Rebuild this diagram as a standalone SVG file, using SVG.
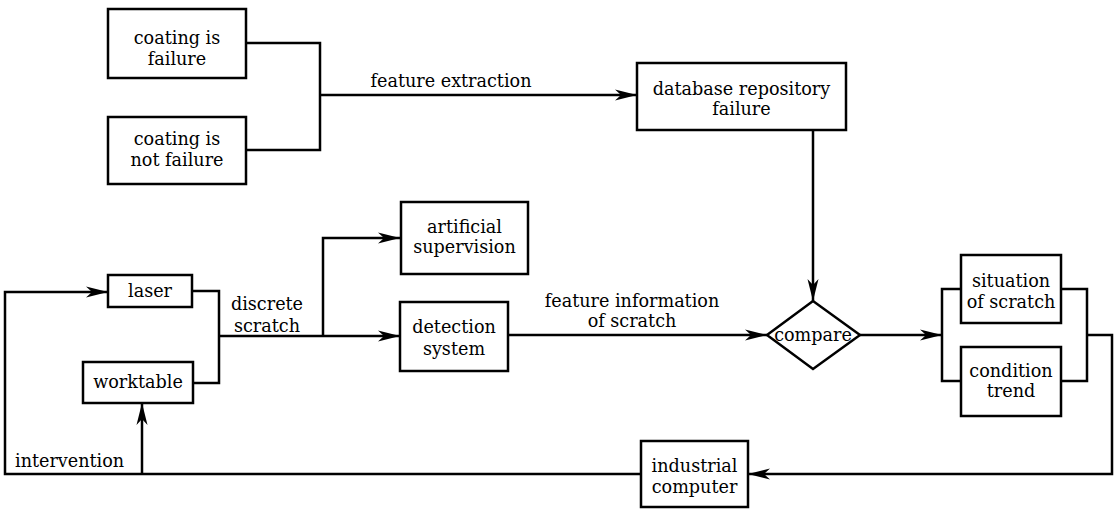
<svg xmlns="http://www.w3.org/2000/svg" width="1119" height="509" viewBox="0 0 1119 509">
<style>
.box{fill:#fff;stroke:#000;stroke-width:2.5}
.ln{fill:none;stroke:#000;stroke-width:2.5}
.arr{marker-end:url(#ah)}
text{font-family:"DejaVu Serif","Liberation Serif",serif;font-size:17.6px;fill:#000;text-anchor:middle}
.l{text-anchor:start}
</style>
<defs>
<marker id="ah" markerUnits="userSpaceOnUse" markerWidth="24" markerHeight="14" refX="22" refY="7" orient="auto">
<path d="M0,1.5 L22,7 L0,12.5 L6,7 z" fill="#000"/>
</marker>
</defs>
<rect width="1119" height="509" fill="#fff"/>
<g id="connectors">
<path class="ln" d="M246,43 H320 V150 H246"/>
<path class="ln arr" d="M320,95 H637"/>
<path class="ln arr" d="M813,130 V301"/>
<path class="ln" d="M192,291 H219 V383 H193"/>
<path class="ln arr" d="M219,336 H400"/>
<path class="ln arr" d="M323,336 V238 H400"/>
<path class="ln arr" d="M508,335 H767"/>
<path class="ln arr" d="M860,335 H942"/>
<path class="ln" d="M961,289 H942 V381 H961"/>
<path class="ln" d="M1061,289 H1087 V381 H1061"/>
<path class="ln arr" d="M1087,335 H1112 V474 H748"/>
<path class="ln arr" d="M641,474 H5 V292 H108"/>
<path class="ln arr" d="M142,474 V403"/>
<text x="451" y="87">feature extraction</text>
<text x="267" y="310">discrete</text>
<text x="267" y="332">scratch</text>
<text x="632" y="307">feature information</text>
<text x="632" y="327">of scratch</text>
<text class="l" x="15" y="467">intervention</text>
</g>
<g id="n-coating-failure">
<rect class="box" x="108" y="9" width="138" height="69"/>
<text x="177" y="44">coating is</text>
<text x="177" y="65">failure</text>
</g>
<g id="n-coating-not-failure">
<rect class="box" x="108" y="117" width="138" height="67"/>
<text x="177" y="145">coating is</text>
<text x="177" y="166">not failure</text>
</g>
<g id="n-database">
<rect class="box" x="637" y="63" width="209" height="67"/>
<text x="741.5" y="95">database repository</text>
<text x="741.5" y="115">failure</text>
</g>
<g id="n-artificial">
<rect class="box" x="401" y="202" width="127" height="72"/>
<text x="464.5" y="233">artificial</text>
<text x="464.5" y="253">supervision</text>
</g>
<g id="n-detection">
<rect class="box" x="400" y="302" width="108" height="69"/>
<text x="454" y="333">detection</text>
<text x="454" y="355">system</text>
</g>
<g id="n-laser">
<rect class="box" x="108" y="275" width="84" height="32"/>
<text x="150" y="297">laser</text>
</g>
<g id="n-worktable">
<rect class="box" x="83" y="362" width="110" height="41"/>
<text x="138" y="388">worktable</text>
</g>
<g id="n-compare">
<polygon class="box" points="767,335 813,301 860,335 813,369"/>
<text x="813" y="341">compare</text>
</g>
<g id="n-situation">
<rect class="box" x="961" y="255" width="100" height="68"/>
<text x="1011" y="287">situation</text>
<text x="1011" y="308">of scratch</text>
</g>
<g id="n-condition">
<rect class="box" x="961" y="347" width="100" height="69"/>
<text x="1011" y="377">condition</text>
<text x="1011" y="397">trend</text>
</g>
<g id="n-industrial">
<rect class="box" x="641" y="441" width="107" height="66"/>
<text x="694.5" y="472">industrial</text>
<text x="694.5" y="493">computer</text>
</g>
</svg>
